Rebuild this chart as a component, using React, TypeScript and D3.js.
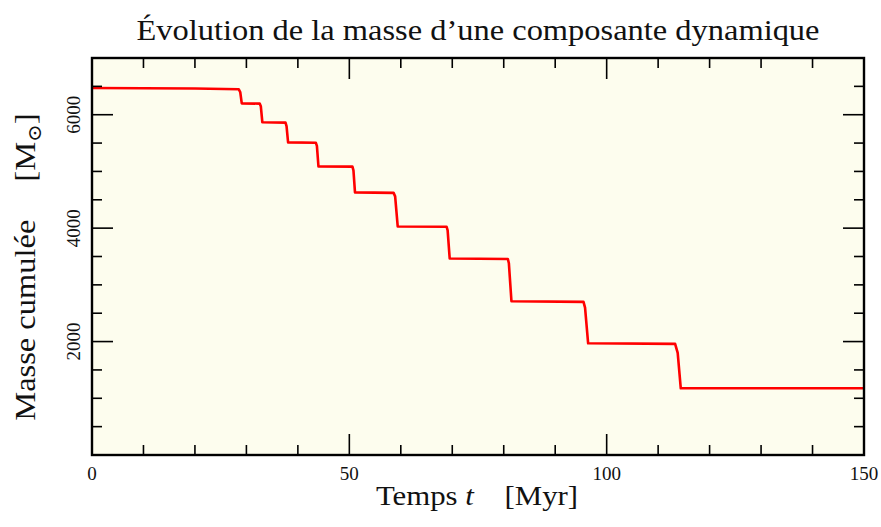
import React from "react";
import * as d3 from "d3";

// données
const timeMyr = [0, 20, 28.5, 28.8, 29.1, 32.6, 32.8, 33.1, 37.6, 37.8, 38.1, 43.5, 43.7, 44.0, 50.6, 50.8, 51.1, 58.6, 58.9, 59.4, 68.9, 69.1, 69.5, 80.8, 81.0, 81.5, 95.5, 95.8, 96.4, 113.3, 113.8, 114.4, 150];
const massSun = [6470, 6462, 6450, 6400, 6200, 6195, 6150, 5866, 5860, 5800, 5513, 5505, 5450, 5089, 5085, 5020, 4630, 4622, 4560, 4030, 4025, 3960, 3465, 3455, 3380, 2711, 2700, 2600, 1970, 1960, 1800, 1176, 1176];

const xMajorTicks = [0, 50, 100, 150];
const xMinorTicks = d3.range(0, 151, 10);
const yMajorTicks = [2000, 4000, 6000];
const yMinorTicks = d3.range(0, 7001, 500);

const title = "Évolution de la masse d’une composante dynamique";
const xLabel = "Temps ";
const yLabel = "Masse cumulée";

const W = 881;
const H = 527;
const margin = { top: 58, right: 17, bottom: 72, left: 92 };
const font = "'Liberation Serif', 'DejaVu Serif', serif";

export default function App() {
  const x = d3.scaleLinear().domain([0, 150]).range([margin.left, W - margin.right]);
  const y = d3.scaleLinear().domain([0, 7000]).range([H - margin.bottom, margin.top]);
  const [x0, x1] = x.range();
  const [y0, y1] = y.range();

  const pts = timeMyr.map((t, i) => [t, massSun[i]] as [number, number]);
  const line = d3.line<[number, number]>().x(d => x(d[0])).y(d => y(d[1]));

  const major = 21;
  const minor = 10;

  return (
    <svg width={W} height={H} style={{ position: "absolute", left: 0, top: 0 }} fontFamily={font}>
      <rect x={0} y={0} width={W} height={H} fill="white" />
      <rect x={x0} y={y1} width={x1 - x0} height={y0 - y1} fill="#fdfdee" />
      <path d={line(pts) ?? ""} fill="none" stroke="#ff0000" strokeWidth={2.6} strokeLinejoin="round" />

      {/* ticks x, bas et haut */}
      {xMinorTicks.map(t => {
        const len = xMajorTicks.includes(t) ? major : minor;
        return (
          <g key={"x" + t} stroke="black" strokeWidth={1.6}>
            <line x1={x(t)} x2={x(t)} y1={y0} y2={y0 - len} />
            <line x1={x(t)} x2={x(t)} y1={y1} y2={y1 + len} />
          </g>
        );
      })}
      {yMinorTicks.map(v => {
        const len = yMajorTicks.includes(v) ? major : minor;
        return (
          <g key={"y" + v} stroke="black" strokeWidth={1.6}>
            <line x1={x0} x2={x0 + len} y1={y(v)} y2={y(v)} />
            <line x1={x1} x2={x1 - len} y1={y(v)} y2={y(v)} />
          </g>
        );
      })}
      <rect x={x0} y={y1} width={x1 - x0} height={y0 - y1} fill="none" stroke="black" strokeWidth={2.4} />

      {xMajorTicks.map(t => (
        <text key={"xl" + t} x={x(t)} y={480} textAnchor="middle" fontSize={19} fill="#111">{t}</text>
      ))}
      {yMajorTicks.map(v => (
        <text key={"yl" + v} transform={`translate(80,${y(v)}) rotate(-90)`} textAnchor="middle" fontSize={19} fill="#111">{v}</text>
      ))}

      <text x={478} y={40} textAnchor="middle" fontSize={29} textLength={683} lengthAdjust="spacingAndGlyphs" fill="#111">{title}</text>
      <text transform="translate(477,505) scale(1.1,1)" textAnchor="middle" fontSize={28} fill="#111">
        {xLabel}<tspan fontStyle="italic">t</tspan><tspan dx={28}>[Myr]</tspan>
      </text>
      <text transform={`translate(35,267) rotate(-90) scale(1.12,1)`} textAnchor="middle" fontSize={29} fill="#111">
        {yLabel}<tspan dx={34}>[M</tspan><tspan fontSize={19} dy={6}>⊙</tspan><tspan dy={-6}>]</tspan>
      </text>
    </svg>
  );
}
